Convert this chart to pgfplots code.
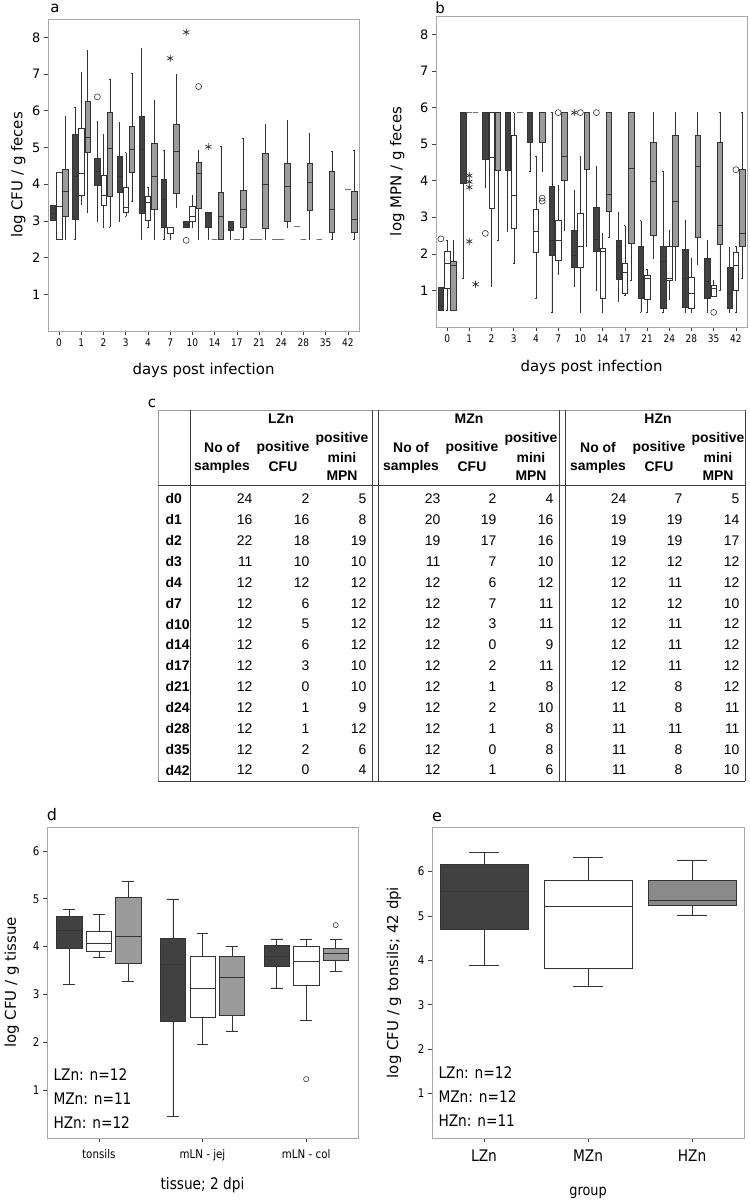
\documentclass[border=0pt]{standalone}
\usepackage{fontspec}
\setmainfont{DejaVu Sans}
\newfontfamily\cond{DejaVu Sans}[FakeStretch=0.86]
\newfontfamily\arial{Liberation Sans}
\usepackage{pgfplots}
\pgfplotsset{compat=1.18}
\usepgfplotslibrary{statistics}
\definecolor{dk}{HTML}{414141}
\definecolor{md}{HTML}{9B9B9B}
\definecolor{me}{HTML}{8A8A8A}
\definecolor{fr}{HTML}{A8A8A8}

% position, fill, lower whisker, lower quartile, median, upper quartile, upper whisker
\newcommand{\BB}[7]{\addplot[boxplot prepared={draw position=#1, lower whisker=#3, lower quartile=#4, median=#5, upper quartile=#6, upper whisker=#7}, fill=#2, draw=black!80, line width=0.5bp] coordinates {};}
% degenerate box (all values equal): drawn as a short dash
\newcommand{\DS}[2]{\addplot[boxplot prepared={draw position=#1, lower whisker=#2, lower quartile=#2, median=#2, upper quartile=#2, upper whisker=#2}, fill=white, draw=black!55, line width=0.6bp] coordinates {};}

\pgfplotsset{panel/.style={scale only axis, anchor=south west,
  boxplot/draw direction=y,
  axis line style={fr, line width=0.8bp}, tick align=outside,
  xtick pos=bottom, ytick pos=left, major tick length=4bp,
  major tick style={black!75, line width=0.6bp},
  /pgf/number format/assume math mode=true,
  ylabel style={anchor=center}, xlabel style={anchor=center}},
  circ/.style={only marks, mark=o, mark size=3bp, mark options={black!80, fill=white, line width=0.6bp}},
  star/.style={only marks, mark=asterisk, mark size=3.5bp, mark options={black!80, line width=0.7bp}}}

\begin{document}
\begin{tikzpicture}
\path[use as bounding box] (0,0) rectangle (750bp,-1202bp);

% ---------------- panel a ----------------
\begin{axis}[panel, at={(48bp,-331bp)}, width=311bp, height=312bp,
  xmin=-0.5, xmax=13.5, ymin=0, ymax=8.5,
  xtick={0,...,13}, xticklabels={0,1,2,3,4,7,10,14,17,21,24,28,35,42},
  ytick={1,...,8},
  yticklabel style={font=\fontsize{13}{13}\selectfont},
  xticklabel style={font=\cond\fontsize{10.5}{10.5}\selectfont},
  xlabel={days post infection}, ylabel={log CFU / g feces},
  xlabel style={at={(axis description cs:0.5,-0.125)}, font=\fontsize{15}{15}\selectfont},
  ylabel style={at={(axis description cs:-0.096,0.5)}, font=\fontsize{15}{15}\selectfont},
  boxplot/box extend=0.25, boxplot/whisker extend=0.06]
\BB{-0.28}{dk}{3.01}{3.01}{3.21}{3.43}{3.43}
\BB{0}{white}{2.5}{2.5}{3.41}{4.32}{4.32}
\BB{0.28}{md}{2.5}{3.12}{3.80}{4.41}{5.86}
\BB{0.72}{dk}{2.5}{3.04}{4.21}{5.36}{6.1}
\BB{1}{white}{3.44}{3.70}{4.30}{5.52}{7.05}
\BB{1.28}{md}{3.24}{4.86}{5.27}{6.27}{7.64}
\BB{1.72}{dk}{3.0}{3.96}{4.34}{4.72}{5.72}
\BB{2}{white}{2.84}{3.43}{3.69}{4.23}{5.37}
\BB{2.28}{md}{2.84}{3.66}{4.97}{5.96}{6.86}
\BB{2.72}{dk}{3.0}{3.79}{4.21}{4.77}{5.69}
\BB{3}{white}{3.12}{3.24}{3.37}{3.91}{4.86}
\BB{3.28}{md}{3.53}{4.32}{4.95}{5.57}{7.02}
\BB{3.72}{dk}{2.5}{3.21}{4.95}{5.84}{7.70}
\BB{4}{white}{2.84}{3.01}{3.51}{3.68}{3.91}
\BB{4.28}{md}{2.5}{3.31}{4.21}{5.11}{6.28}
\BB{4.72}{dk}{2.5}{2.84}{3.59}{4.14}{4.93}
\BB{5}{white}{2.5}{2.65}{2.84}{2.84}{2.84}
\BB{5.28}{md}{3.37}{3.76}{4.91}{5.62}{7.0}
\BB{5.72}{dk}{2.84}{2.84}{2.92}{3.0}{3.0}
\BB{6}{white}{2.84}{2.98}{3.12}{3.40}{3.70}
\BB{6.28}{md}{2.5}{3.34}{4.30}{4.61}{4.92}
\BB{6.72}{dk}{2.5}{2.84}{2.84}{3.24}{3.24}
\DS{7}{2.5}
\BB{7.28}{md}{2.5}{2.5}{3.12}{3.77}{5.04}
\BB{7.72}{dk}{2.5}{2.74}{2.74}{3.0}{3.0}
\DS{8}{2.5}
\BB{8.28}{md}{2.5}{2.84}{3.31}{3.84}{5.25}
\DS{8.72}{2.5}
\DS{9}{2.5}
\BB{9.28}{md}{2.5}{2.8}{4.0}{4.84}{5.62}
\DS{9.72}{2.5}
\DS{10}{2.5}
\BB{10.28}{md}{2.84}{3.0}{3.95}{4.58}{5.73}
\DS{10.72}{2.84}
\DS{11}{2.5}
\BB{11.28}{md}{2.5}{3.28}{4.05}{4.57}{5.40}
\DS{11.72}{2.5}
\BB{12.28}{md}{2.5}{2.68}{3.31}{4.34}{4.89}
\DS{13}{3.85}
\BB{13.28}{md}{2.5}{2.68}{3.05}{3.82}{4.93}
\addplot[circ] coordinates {(1.72,6.38) (5.72,2.47) (6.28,6.66)};
\addplot[star] coordinates {(5,7.43) (5.72,8.14) (6.72,5.02)};
\end{axis}

% ---------------- panel b ----------------
\begin{axis}[panel, at={(436bp,-327bp)}, width=311bp, height=311bp,
  xmin=-0.5, xmax=13.5, ymin=0, ymax=8.5,
  xtick={0,...,13}, xticklabels={0,1,2,3,4,7,10,14,17,21,24,28,35,42},
  ytick={1,...,8},
  yticklabel style={font=\fontsize{13}{13}\selectfont},
  xticklabel style={font=\cond\fontsize{10.5}{10.5}\selectfont},
  xlabel={days post infection}, ylabel={log MPN / g feces},
  xlabel style={at={(axis description cs:0.5,-0.129)}, font=\fontsize{15}{15}\selectfont},
  ylabel style={at={(axis description cs:-0.125,0.5)}, font=\fontsize{15}{15}\selectfont},
  boxplot/box extend=0.25, boxplot/whisker extend=0.06]
\BB{-0.28}{dk}{0.45}{0.45}{0.6}{1.09}{1.09}
\BB{0}{white}{0.45}{1.05}{1.75}{2.06}{2.36}
\BB{0.28}{md}{0.45}{0.45}{1.68}{1.8}{2.36}
\BB{0.72}{dk}{1.32}{3.93}{5.86}{5.86}{5.86}
\DS{1}{5.86}
\DS{1.28}{5.86}
\BB{1.72}{dk}{3.82}{4.59}{5.86}{5.86}{5.86}
\BB{2}{white}{1.11}{3.25}{4.63}{5.86}{5.86}
\BB{2.28}{md}{2.36}{4.29}{5.86}{5.86}{5.86}
\BB{2.72}{dk}{2.62}{4.29}{5.86}{5.86}{5.86}
\BB{3}{white}{1.73}{2.70}{3.61}{5.25}{5.86}
\DS{3.28}{5.86}
\BB{3.72}{dk}{4.25}{5.06}{5.86}{5.86}{5.86}
\BB{4}{white}{0.79}{2.05}{2.61}{3.21}{4.66}
\BB{4.28}{md}{4.25}{5.06}{5.86}{5.86}{5.86}
\BB{4.72}{dk}{0.4}{1.95}{2.38}{3.85}{5.86}
\BB{5}{white}{1.45}{1.82}{2.36}{2.91}{3.88}
\BB{5.28}{md}{2.65}{4.0}{4.66}{5.86}{5.86}
\BB{5.72}{dk}{1.11}{1.64}{1.95}{2.65}{3.73}
\BB{6}{white}{0.4}{1.64}{2.21}{3.11}{4.66}
\BB{6.28}{md}{2.2}{4.32}{5.86}{5.86}{5.86}
\BB{6.72}{dk}{1.0}{2.06}{2.41}{3.27}{4.39}
\BB{7}{white}{0.4}{0.79}{2.06}{2.14}{2.57}
\BB{7.28}{md}{2.45}{3.16}{3.64}{5.86}{5.86}
\BB{7.72}{dk}{0.71}{1.3}{2.21}{2.36}{3.14}
\BB{8}{white}{0.86}{0.91}{1.5}{1.73}{2.77}
\BB{8.28}{md}{1.27}{2.29}{4.34}{5.86}{5.86}
\BB{8.72}{dk}{0.4}{0.79}{1.64}{2.2}{2.91}
\BB{9}{white}{0.4}{0.77}{1.32}{1.41}{1.59}
\BB{9.28}{md}{1.88}{2.5}{3.98}{5.06}{5.86}
\BB{9.72}{dk}{0.4}{0.5}{1.8}{2.2}{4.25}
\BB{10}{white}{0.77}{1.27}{1.32}{2.2}{2.64}
\BB{10.28}{md}{1.27}{2.2}{3.45}{5.25}{5.86}
\BB{10.72}{dk}{0.4}{0.55}{1.32}{2.12}{2.93}
\BB{11}{white}{0.4}{0.5}{0.91}{1.36}{1.89}
\BB{11.28}{md}{1.71}{2.44}{4.39}{5.25}{5.86}
\BB{11.72}{dk}{0.4}{0.79}{1.25}{1.89}{2.36}
\BB{12}{white}{0.85}{0.85}{1.05}{1.14}{1.27}
\BB{12.28}{md}{1.0}{2.27}{2.77}{5.06}{5.86}
\BB{12.72}{dk}{0.4}{0.5}{0.91}{1.62}{2.18}
\BB{13}{white}{0.4}{1.0}{1.7}{2.05}{2.21}
\BB{13.28}{md}{1.32}{2.21}{2.57}{4.32}{5.86}
\addplot[circ] coordinates {(-0.28,2.41) (1.72,2.56) (4.28,3.44) (4.28,3.52) (5,5.86) (6,5.86) (6.72,5.86) (12,0.4) (13,4.3)};
\addplot[star] coordinates {(1,4.14) (1,3.97) (1,3.82) (1,2.34) (1.28,1.17) (5.72,5.86)};
\end{axis}

% ---------------- panel d ----------------
\begin{axis}[panel, at={(47bp,-1138bp)}, width=311bp, height=311bp,
  xmin=0.5, xmax=3.5, ymin=0, ymax=6.5,
  xtick={1,2,3}, xticklabels={tonsils, mLN - jej, mLN - col},
  ytick={1,...,6},
  yticklabel style={font=\cond\fontsize{12}{12}\selectfont},
  xticklabel style={font=\cond\fontsize{12}{12}\selectfont, yshift=-4bp},
  xlabel={tissue; 2 dpi}, ylabel={log CFU / g tissue},
  xlabel style={at={(axis description cs:0.5,-0.151)}, font=\cond\fontsize{16}{16}\selectfont},
  ylabel style={at={(axis description cs:-0.113,0.5)}, font=\fontsize{15}{15}\selectfont},
  boxplot/box extend=0.245, boxplot/whisker extend=0.115]
\BB{0.715}{dk}{3.21}{3.96}{4.34}{4.64}{4.78}
\BB{1}{white}{3.78}{3.90}{4.07}{4.32}{4.68}
\BB{1.285}{md}{3.28}{3.66}{4.22}{5.04}{5.37}
\BB{1.715}{dk}{0.46}{2.43}{3.64}{4.17}{5.0}
\BB{2}{white}{1.97}{2.52}{3.13}{3.79}{4.28}
\BB{2.285}{md}{2.24}{2.57}{3.36}{3.79}{4.0}
\BB{2.715}{dk}{3.14}{3.59}{3.79}{4.02}{4.16}
\BB{3}{white}{2.46}{3.19}{3.70}{4.0}{4.16}
\BB{3.285}{md}{3.48}{3.71}{3.87}{3.97}{4.16}
\addplot[circ, mark size=2.6bp] coordinates {(3,1.23) (3.285,4.45)};
\end{axis}

% ---------------- panel e ----------------
\begin{axis}[panel, at={(432bp,-1138bp)}, width=312bp, height=311bp,
  xmin=0.5, xmax=3.5, ymin=0, ymax=7,
  xtick={1,2,3}, xticklabels={LZn, MZn, HZn},
  ytick={1,...,6},
  yticklabel style={font=\cond\fontsize{12}{12}\selectfont},
  xticklabel style={font=\cond\fontsize{16}{16}\selectfont, yshift=-4bp},
  xlabel={group}, ylabel={log CFU / g tonsils; 42 dpi},
  xlabel style={at={(axis description cs:0.5,-0.177)}, font=\cond\fontsize{15}{15}\selectfont},
  ylabel style={at={(axis description cs:-0.122,0.5)}, font=\fontsize{15}{15}\selectfont},
  boxplot/box extend=0.85, boxplot/whisker extend=0.29]
\BB{1}{dk}{3.89}{4.70}{5.56}{6.16}{6.43}
\BB{2}{white}{3.41}{3.83}{5.22}{5.81}{6.33}
\BB{3}{me}{5.02}{5.24}{5.36}{5.81}{6.26}
\end{axis}

% panel letters and annotations
\node[font=\fontsize{15}{15}\selectfont] at (55bp,-8bp) {a};
\node[font=\fontsize{15}{15}\selectfont] at (440bp,-8bp) {b};
\node[font=\fontsize{15}{15}\selectfont] at (152bp,-403bp) {c};
\node[font=\fontsize{16}{16}\selectfont] at (52bp,-815bp) {d};
\node[font=\fontsize{16}{16}\selectfont] at (437bp,-817bp) {e};
\begin{scope}[font=\cond\fontsize{16}{16}\selectfont]
\node[anchor=west] at (50bp,-1075bp) {LZn: n=12};
\node[anchor=west] at (50bp,-1099bp) {MZn: n=11};
\node[anchor=west] at (50bp,-1123bp) {HZn: n=12};
\node[anchor=west] at (435bp,-1073bp) {LZn: n=12};
\node[anchor=west] at (435bp,-1097bp) {MZn: n=12};
\node[anchor=west] at (435bp,-1121bp) {HZn: n=11};
\end{scope}

% ---------------- table c ----------------
\begin{scope}[font=\arial\fontsize{14}{14}\selectfont]
\draw[black!40, line width=0.8bp] (158bp,-410bp) -- (745bp,-410bp) (158bp,-410bp) -- (158bp,-781bp);
\draw[black!75, line width=0.8bp] (745bp,-410bp) -- (745bp,-781bp);
\draw[black!75, line width=0.8bp] (190bp,-410bp) -- (190bp,-781bp);
\draw[black!75, line width=0.8bp] (372bp,-410bp) -- (372bp,-781bp) (378bp,-410bp) -- (378bp,-781bp);
\draw[black!75, line width=0.8bp] (559bp,-410bp) -- (559bp,-781bp) (565bp,-410bp) -- (565bp,-781bp);
\draw[black!75, line width=0.8bp] (158bp,-485bp) -- (745bp,-485bp);
\draw[black!75, line width=0.8bp] (158bp,-781bp) -- (745bp,-781bp);
\node[font=\arial\bfseries\fontsize{14}{14}\selectfont] at (281bp,-419bp) {LZn};
\node[font=\arial\bfseries\fontsize{14}{14}\selectfont] at (469bp,-419bp) {MZn};
\node[font=\arial\bfseries\fontsize{14}{14}\selectfont] at (658bp,-419bp) {HZn};
\foreach \sx in {0,189,376} {
  \begin{scope}[xshift=\sx bp, font=\arial\bfseries\fontsize{14}{14}\selectfont]
  \node at (222bp,-448bp) {No of};
  \node at (222bp,-467bp) {samples};
  \node at (283bp,-448bp) {positive};
  \node at (283bp,-467bp) {CFU};
  \node at (342bp,-439bp) {positive};
  \node at (342bp,-457bp) {mini};
  \node at (342bp,-476bp) {MPN};
  \end{scope}
}
\foreach \l/\a/\b/\c/\d/\e/\f/\g/\h/\i [count=\r from 0] in {
  d0/24/2/5/23/2/4/24/7/5, d1/16/16/8/20/19/16/19/19/14, d2/22/18/19/19/17/16/19/19/17,
  d3/11/10/10/11/7/10/12/12/12, d4/12/12/12/12/6/12/12/11/12, d7/12/6/12/12/7/11/12/12/10,
  d10/12/5/12/12/3/11/12/11/12, d14/12/6/12/12/0/9/12/11/12, d17/12/3/10/12/2/11/12/11/12,
  d21/12/0/10/12/1/8/12/8/12, d24/12/1/9/12/2/10/11/8/11, d28/12/1/12/12/1/8/11/11/11,
  d35/12/2/6/12/0/8/11/8/10, d42/12/0/4/12/1/6/11/8/10} {
  \pgfmathsetmacro\yy{-499-20.85*\r}
  \node[anchor=west, font=\arial\bfseries\fontsize{14}{14}\selectfont] at (162bp,\yy bp) {\l};
  \node[anchor=east] at (256bp,\yy bp) {\a};
  \node[anchor=east] at (313bp,\yy bp) {\b};
  \node[anchor=east] at (370bp,\yy bp) {\c};
  \node[anchor=east] at (444bp,\yy bp) {\d};
  \node[anchor=east] at (500bp,\yy bp) {\e};
  \node[anchor=east] at (557bp,\yy bp) {\f};
  \node[anchor=east] at (630bp,\yy bp) {\g};
  \node[anchor=east] at (686bp,\yy bp) {\h};
  \node[anchor=east] at (743bp,\yy bp) {\i};
}
\end{scope}
\end{tikzpicture}
\end{document}
